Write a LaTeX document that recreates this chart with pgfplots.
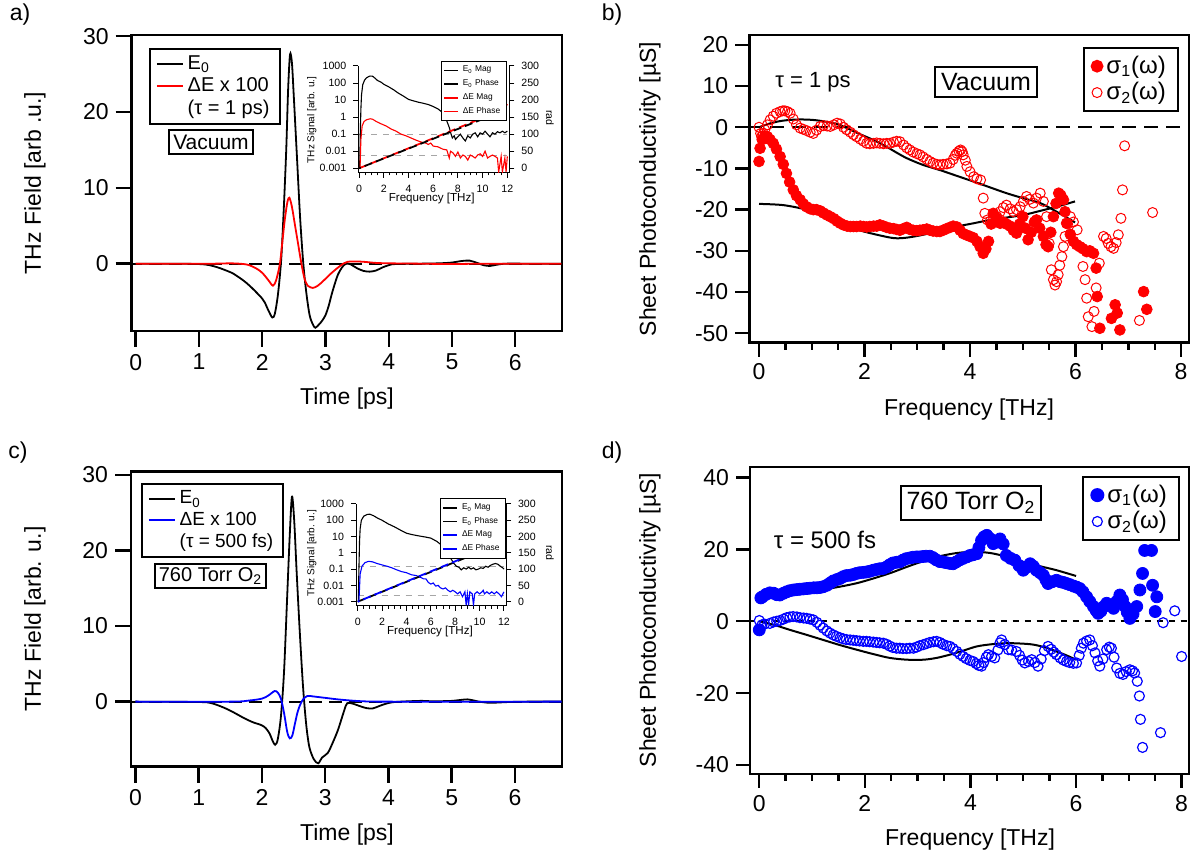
\documentclass[border=0pt]{standalone}
\usepackage{fontspec}
\setmainfont{Liberation Sans}
\usepackage{pgfplots}
\pgfplotsset{compat=1.18}
\usepackage{pgfplotstable}
\newcommand{\fs}[1]{\fontsize{#1}{#1}\selectfont}

\pgfplotstableread{
t v
0 0
0.5 0
1.0 -0.05
1.17 -0.2
1.3 -0.5
1.4 -0.8
1.54 -1.3
1.7 -2.2
1.8 -2.9
1.91 -3.8
2.0 -4.6
2.04 -5.1
2.1 -6.2
2.16 -7.1
2.2 -6.6
2.25 -4.0
2.3 0.5
2.34 7
2.38 15
2.41 23
2.44 27.6
2.47 26.5
2.5 22
2.55 14
2.6 6
2.65 0
2.7 -4
2.75 -6.8
2.8 -8.0
2.84 -8.45
2.9 -8.0
2.95 -7.5
3.0 -6.8
3.05 -5.6
3.1 -4.0
3.15 -2.6
3.2 -1.4
3.27 -0.4
3.33 0
3.4 -0.1
3.5 -0.6
3.6 -0.95
3.7 -1.05
3.8 -0.9
3.9 -0.5
4.0 -0.2
4.1 -0.05
4.5 0
4.8 0.05
5.0 0.15
5.15 0.35
5.28 0.4
5.4 0.1
5.5 -0.2
5.6 -0.3
5.7 -0.15
5.85 0
6.2 0
6.73 0
}\Ea

\pgfplotstableread{
t v
0 0
1.2 0
1.5 0.05
1.75 -0.1
1.9 -0.6
2.0 -1.2
2.1 -2.2
2.17 -2.9
2.22 -2.2
2.28 0
2.32 3
2.36 6
2.4 8.2
2.43 8.7
2.47 7.5
2.52 5
2.57 2.5
2.62 0
2.67 -2
2.72 -2.9
2.8 -3.2
2.88 -2.9
2.95 -2.4
3.0 -2.0
3.1 -1.2
3.2 -0.5
3.28 0
3.35 0.25
3.45 0.3
3.6 0.25
3.8 0.1
4.0 0.05
4.5 0
5.0 -0.05
5.5 0
6.73 0
}\dEa

\pgfplotstableread{
t v
0 0
1.0 -0.05
1.2 -0.2
1.4 -0.8
1.57 -1.5
1.7 -2.1
1.85 -2.7
1.99 -3.1
2.06 -3.5
2.12 -4.2
2.17 -5.2
2.21 -5.7
2.25 -5.0
2.3 -2
2.35 4
2.4 14
2.44 22
2.475 27.1
2.51 24
2.55 17
2.6 9
2.65 2
2.7 -3
2.75 -6
2.82 -7.6
2.89 -8.15
2.95 -7.4
3.04 -6.8
3.1 -5.8
3.2 -3.8
3.3 -1.2
3.35 -0.2
3.45 -0.3
3.55 -0.6
3.65 -0.85
3.75 -0.9
3.85 -0.6
3.95 -0.3
4.1 -0.05
4.5 0.1
4.7 0.05
5.0 0.1
5.25 0.3
5.4 0.05
5.6 -0.15
5.9 -0.05
6.2 0
6.74 0
}\Ec

\pgfplotstableread{
t v
0 0
1.5 0
1.8 0.15
2.0 0.4
2.1 0.8
2.2 1.4
2.25 1.2
2.3 0.4
2.35 -1.5
2.4 -4
2.44 -4.85
2.48 -4.5
2.52 -3
2.56 -1.5
2.6 -0.5
2.65 0.3
2.72 0.75
2.8 0.7
2.9 0.6
3.0 0.5
3.2 0.3
3.4 0.15
3.6 0.05
4.0 0
6.74 0
}\dEc

\pgfplotstableread{
f v
0.05 0.001
0.1 0.1
0.15 3
0.2 20
0.3 80
0.45 150
0.6 200
0.8 245
0.9 257
1.1 250
1.3 190
1.5 140
1.8 110
2.0 85
2.4 60
2.8 40
3.2 25
3.6 17
4.0 11
4.4 9
4.8 7.5
5.2 6.5
5.6 5.5
6.0 4.2
6.4 3.0
6.7 2.0
6.9 1.2
7.1 0.6
7.3 0.25
7.45 0.1
7.55 0.06
7.7 0.08
7.8 0.05
8.0 0.07
8.2 0.1
8.4 0.06
8.6 0.04
8.8 0.08
9.0 0.06
9.2 0.1
9.4 0.12
9.6 0.07
9.8 0.12
10.0 0.1
10.2 0.15
10.4 0.1
10.6 0.07
10.8 0.12
11.0 0.1
11.2 0.14
11.4 0.12
11.6 0.15
11.8 0.12
12.0 0.15
}\EmagA

\pgfplotstableread{
f v
0.08 0.001
0.15 0.05
0.25 0.3
0.4 0.55
0.6 0.7
0.9 0.8
1.1 0.75
1.4 0.55
1.8 0.4
2.2 0.3
2.6 0.2
3.0 0.15
3.4 0.1
3.8 0.08
4.2 0.06
4.6 0.045
5.0 0.035
5.4 0.03
5.6 0.025
5.8 0.03
6.0 0.02
6.4 0.018
6.8 0.013
7.1 0.012
7.3 0.004
7.4 0.01
7.6 0.008
7.8 0.005
8.0 0.009
8.2 0.004
8.4 0.006
8.6 0.005
8.8 0.003
9.0 0.006
9.2 0.005
9.4 0.004
9.6 0.006
9.8 0.007
10.0 0.005
10.2 0.01
10.4 0.004
10.6 0.005
10.8 0.006
11.0 0.005
11.2 0.004
11.3 0.0006
11.5 0.005
11.6 0.0006
11.8 0.004
11.9 0.0006
12.0 0.005
}\dEmagA

\pgfplotstableread{
f v
0.05 0.001
0.1 0.1
0.15 5
0.2 30
0.3 100
0.5 180
0.8 230
1.0 235
1.3 190
1.6 140
2.0 100
2.5 60
3.0 40
3.5 25
4.0 16
4.5 13
5.0 11
5.5 9.5
6.0 8
6.5 5
7.0 2.5
7.3 1.2
7.6 0.5
7.9 0.22
8.1 0.15
8.3 0.13
8.5 0.09
8.7 0.12
8.9 0.1
9.1 0.13
9.3 0.1
9.5 0.12
9.7 0.09
9.9 0.1
10.1 0.12
10.3 0.11
10.5 0.15
10.7 0.13
10.9 0.17
11.1 0.2
11.3 0.22
11.5 0.2
11.7 0.15
11.9 0.12
12.0 0.1
}\EmagC

\pgfplotstableread{
f v
0.1 0.001
0.2 0.05
0.35 0.15
0.6 0.25
0.9 0.3
1.2 0.28
1.6 0.22
2.0 0.18
2.4 0.15
2.8 0.12
3.2 0.09
3.6 0.07
4.0 0.06
4.4 0.045
4.8 0.04
5.2 0.03
5.4 0.025
5.6 0.025
5.8 0.015
6.0 0.012
6.2 0.014
6.4 0.009
6.6 0.01
6.8 0.007
7.0 0.006
7.2 0.007
7.4 0.005
7.6 0.004
7.8 0.005
8.0 0.004
8.2 0.003
8.4 0.004
8.6 0.002
8.8 0.004
8.9 0.0006
9.0 0.003
9.1 0.0006
9.2 0.004
9.4 0.003
9.5 0.0006
9.6 0.003
9.8 0.004
10.0 0.003
10.2 0.004
10.3 0.005
10.4 0.003
10.6 0.004
10.8 0.003
11.0 0.004
11.2 0.003
11.4 0.004
11.6 0.003
11.8 0.002
12.0 0.004
}\dEmagC

\pgfplotstableread{
f v
0.00 -8.3
0.02 -5.1
0.06 -3.0
0.11 -2.1
0.16 -2.3
0.21 -3.0
0.27 -3.9
0.33 -5.3
0.40 -7.1
0.46 -9.0
0.52 -11.2
0.58 -13.3
0.65 -15.2
0.71 -16.6
0.78 -17.6
0.84 -18.6
0.90 -19.3
0.97 -19.8
1.03 -20.0
1.09 -20.0
1.16 -20.3
1.22 -20.8
1.29 -21.3
1.35 -21.7
1.42 -22.2
1.48 -22.8
1.54 -23.3
1.60 -23.7
1.67 -24.0
1.73 -24.1
1.79 -24.1
1.85 -24.1
1.92 -24.0
1.98 -24.1
2.04 -24.2
2.10 -24.1
2.17 -24.0
2.23 -24.0
2.29 -23.7
2.36 -24.0
2.42 -24.3
2.48 -24.5
2.55 -24.6
2.61 -24.8
2.67 -25.0
2.74 -24.6
2.80 -24.3
2.86 -24.8
2.92 -25.0
2.99 -25.1
3.05 -25.0
3.11 -24.9
3.18 -24.7
3.24 -25.0
3.30 -25.2
3.37 -25.3
3.43 -25.3
3.49 -25.0
3.56 -24.6
3.62 -24.3
3.68 -24.0
3.75 -24.2
3.81 -25.0
3.87 -25.8
3.94 -26.2
4.00 -26.5
4.06 -26.8
4.13 -27.7
4.19 -29.0
4.25 -30.6
4.30 -29.5
4.35 -27.7
4.40 -23.5
4.44 -20.9
4.50 -22.0
4.57 -23.3
4.63 -23.0
4.69 -23.5
4.76 -24.0
4.82 -25.0
4.88 -25.7
4.94 -23.5
5.00 -21.7
5.05 -24.5
5.10 -27.3
5.16 -25.5
5.22 -23.0
5.26 -22.5
5.32 -24.5
5.39 -26.5
5.44 -28.5
5.48 -29.0
5.53 -25.5
5.58 -21.7
5.63 -18.5
5.68 -16.0
5.72 -16.5
5.77 -17.6
5.80 -20.5
5.83 -23.3
5.90 -26.0
5.96 -27.7
6.02 -28.5
6.08 -29.0
6.14 -29.5
6.21 -30.2
6.27 -30.0
6.34 -30.6
6.39 -34.2
6.41 -41.1
6.46 -48.8
6.68 -46.4
6.75 -43.1
6.79 -45.1
6.84 -49.2
7.29 -39.9
7.35 -44.2
}\sOneB

\pgfplotstableread{
f v
0.00 0.0
0.03 -1.5
0.05 -2.3
0.08 -1.5
0.11 -0.6
0.16 0.6
0.21 1.8
0.27 2.7
0.33 3.4
0.40 3.8
0.45 4.0
0.49 4.0
0.54 3.8
0.59 3.4
0.65 2.0
0.71 0.6
0.78 -0.2
0.84 -0.5
0.90 -0.8
0.97 -1.2
1.03 -1.5
1.09 -0.7
1.16 0.2
1.22 0.4
1.29 0.3
1.35 0.2
1.42 0.6
1.48 1.0
1.54 0.8
1.60 0.0
1.66 -0.6
1.73 -1.2
1.79 -1.8
1.85 -2.3
1.92 -2.9
1.98 -3.4
2.04 -3.9
2.10 -4.0
2.17 -3.9
2.23 -3.8
2.29 -3.9
2.36 -4.0
2.42 -3.9
2.48 -3.9
2.55 -3.6
2.61 -3.4
2.67 -3.5
2.74 -4.3
2.80 -5.0
2.86 -5.5
2.92 -6.0
2.99 -6.4
3.05 -6.7
3.11 -7.2
3.18 -7.8
3.24 -8.3
3.30 -8.7
3.37 -9.0
3.43 -9.1
3.49 -9.0
3.56 -8.9
3.62 -8.7
3.68 -7.8
3.72 -6.8
3.75 -6.3
3.79 -5.8
3.82 -5.5
3.85 -5.9
3.87 -6.7
3.91 -8.0
3.94 -9.5
4.00 -10.8
4.07 -12.0
4.13 -12.5
4.20 -12.8
4.25 -17.2
4.28 -20.9
4.33 -22.5
4.38 -22.9
4.44 -22.5
4.51 -21.7
4.57 -20.5
4.63 -19.5
4.69 -18.9
4.76 -19.8
4.82 -20.5
4.88 -20.0
4.95 -19.3
5.01 -18.0
5.07 -16.8
5.13 -17.5
5.20 -18.4
5.26 -17.2
5.33 -16.0
5.39 -18.0
5.45 -21.7
5.50 -28.2
5.54 -34.6
5.58 -37.0
5.61 -38.3
5.64 -37.5
5.67 -35.8
5.70 -33.5
5.74 -31.4
5.77 -29.0
5.80 -26.5
5.85 -23.5
5.90 -21.7
5.96 -23.0
6.03 -24.9
6.09 -29.0
6.14 -33.8
6.18 -37.0
6.21 -41.5
6.24 -46.0
6.31 -48.4
6.35 -44.7
6.39 -39.0
6.45 -33.0
6.53 -26.5
6.58 -27.0
6.62 -28.2
6.67 -29.0
6.72 -29.4
6.77 -28.0
6.81 -26.1
6.86 -22.1
6.89 -15.2
6.93 -4.5
7.21 -46.9
7.46 -20.7
}\sTwoB

\pgfplotstableread{
f v
0.00 -2.4
0.03 6.5
0.06 6.8
0.13 7.5
0.20 7.9
0.27 7.8
0.33 7.4
0.39 7.3
0.46 7.8
0.52 8.2
0.58 8.5
0.65 8.7
0.71 8.8
0.77 8.9
0.84 9.0
0.90 9.1
0.96 9.2
1.03 9.3
1.09 9.3
1.15 9.4
1.21 9.6
1.28 10.0
1.34 10.6
1.40 11.2
1.47 11.6
1.53 11.9
1.59 12.4
1.65 12.7
1.72 12.8
1.78 13.0
1.84 13.3
1.90 13.5
1.97 13.6
2.03 13.7
2.09 13.9
2.16 14.2
2.22 14.4
2.28 14.6
2.35 14.7
2.41 15.1
2.47 15.7
2.53 16.2
2.60 16.4
2.66 16.5
2.72 17.0
2.78 17.4
2.85 17.6
2.91 17.8
2.98 17.9
3.04 17.9
3.10 18.0
3.16 18.1
3.23 18.1
3.29 17.7
3.35 17.1
3.42 16.6
3.48 16.5
3.54 16.3
3.61 16.1
3.67 16.0
3.73 16.5
3.80 17.1
3.86 17.5
3.93 17.9
3.99 18.3
4.05 18.5
4.12 18.8
4.16 20.5
4.21 22.5
4.26 23.5
4.31 23.9
4.37 23.0
4.43 21.6
4.49 22.0
4.56 22.9
4.62 21.5
4.68 18.3
4.76 17.5
4.84 17.0
4.92 15.5
5.00 14.2
5.06 15.0
5.13 16.0
5.19 15.3
5.25 14.2
5.32 13.5
5.38 12.8
5.43 11.5
5.47 10.5
5.55 11.0
5.63 11.4
5.70 11.0
5.76 10.8
5.82 10.5
5.88 10.2
5.95 9.8
6.01 9.5
6.07 9.1
6.13 8.2
6.20 6.8
6.26 5.5
6.33 4.1
6.38 3.0
6.42 2.2
6.47 2.8
6.52 4.0
6.58 5.0
6.64 4.5
6.71 3.6
6.77 5.5
6.83 7.3
6.88 6.0
6.93 4.1
6.97 2.5
7.02 0.8
7.08 2.0
7.15 4.1
7.21 8.7
7.26 13.3
7.30 19.7
7.43 19.7
7.45 10.0
7.50 2.7
7.53 6.8
}\sOneD

\pgfplotstableread{
f v
0.00 0.2
0.05 -1.0
0.10 -0.8
0.20 -0.6
0.27 -0.2
0.33 0.0
0.39 0.2
0.46 0.6
0.52 1.0
0.58 1.2
0.64 1.3
0.71 1.2
0.77 1.0
0.84 0.9
0.90 0.8
0.96 0.6
1.02 0.4
1.09 -0.3
1.15 -1.1
1.21 -1.9
1.28 -2.7
1.34 -3.3
1.40 -3.8
1.46 -4.2
1.53 -4.6
1.59 -4.9
1.65 -5.1
1.72 -5.2
1.78 -5.3
1.84 -5.4
1.90 -5.5
1.97 -5.6
2.03 -5.6
2.09 -5.7
2.16 -5.8
2.22 -5.9
2.28 -6.0
2.35 -6.1
2.41 -6.4
2.47 -6.9
2.53 -7.3
2.60 -7.5
2.66 -7.5
2.72 -7.6
2.79 -7.6
2.85 -7.5
2.92 -7.5
2.98 -7.2
3.04 -6.8
3.11 -6.5
3.17 -6.2
3.23 -5.9
3.30 -5.7
3.36 -5.6
3.42 -5.9
3.48 -6.4
3.55 -6.8
3.61 -7.0
3.67 -7.6
3.74 -8.4
3.80 -9.2
3.86 -9.8
3.92 -10.4
3.99 -10.9
4.05 -11.2
4.11 -11.8
4.16 -12.3
4.21 -12.5
4.25 -11.5
4.30 -10.0
4.34 -9.3
4.40 -9.8
4.46 -10.2
4.52 -8.0
4.56 -6.0
4.59 -5.2
4.65 -6.5
4.72 -7.9
4.78 -8.0
4.87 -8.4
4.93 -9.5
4.98 -10.8
5.03 -11.6
5.10 -11.2
5.16 -10.7
5.22 -11.5
5.28 -12.5
5.34 -10.5
5.40 -8.2
5.47 -7.0
5.53 -7.8
5.58 -8.6
5.63 -9.3
5.70 -10.2
5.76 -10.8
5.82 -11.2
5.88 -11.5
5.95 -11.7
6.01 -11.6
6.06 -9.5
6.10 -7.5
6.14 -6.1
6.20 -5.5
6.26 -5.2
6.31 -6.8
6.36 -8.8
6.41 -11.0
6.45 -12.5
6.51 -10.5
6.58 -7.9
6.63 -7.2
6.67 -7.5
6.72 -10.0
6.77 -13.0
6.83 -14.5
6.89 -14.8
6.95 -14.0
7.02 -13.5
7.07 -13.8
7.11 -14.4
7.16 -16.7
7.20 -20.8
7.22 -27.3
7.26 -35.1
7.60 -31.0
7.65 -0.4
7.87 2.9
8.00 -9.8
}\sTwoD

\pgfplotsset{
  mainax/.style={scale only axis, axis line style={line width=1.2pt}, tick align=outside,
    xtick pos=bottom, ytick pos=left, tick style={black, line width=1.2pt},
    major tick length=8pt, minor tick length=3.5pt,
    tick label style={font=\fs{11.5}}, /pgf/number format/assume math mode=true},
  insetax/.style={scale only axis, tick align=outside, axis line style={line width=0.5pt},
    tick style={black, line width=0.5pt}, major tick length=2.5pt, minor tick length=1.3pt,
    tick label style={font=\fs{5.3}}, /pgf/number format/assume math mode=true,
    xmin=-0.06, xmax=12.16, xtick={0,2,...,12}, minor x tick num=3},
}

\begin{document}
\begin{tikzpicture}
\path[use as bounding box] (0pt,0pt) rectangle (597pt,428pt);

% ---------------- panel a ----------------
\begin{axis}[mainax, at={(65.85pt,262.5pt)}, anchor=south west, width=215pt, height=148pt,
  xmin=-0.063, xmax=6.735, ymin=-8.88, ymax=30.17, xtick={0,...,6}, ytick={0,10,20,30},
  legend style={at={(0.04,0.956)}, anchor=north west, draw=black, line width=1pt,
    font=\fs{10}, inner xsep=3pt, inner ysep=1.5pt, row sep=-1.5pt, legend cell align=left},
  legend image code/.code={\draw[#1] (0pt,0pt) -- (13pt,0pt);}]
\addplot[black, line width=1pt, dash pattern=on 6.5pt off 3.5pt, forget plot] coordinates {(-0.1,0) (6.8,0)};
\addplot[black, line width=0.9pt, smooth] table[x=t,y=v] {\Ea};
\addlegendentry{E\textsubscript{0}}
\addplot[red, line width=0.9pt, smooth] table[x=t,y=v] {\dEa};
\addlegendentry{ΔE x 100}
\addlegendimage{empty legend}
\addlegendentry{(τ = 1 ps)}
\end{axis}
\node[draw, line width=1pt, inner xsep=2pt, inner ysep=2.5pt, font=\fs{10.5}] at (105.5pt,357pt) {Vacuum};

% inset a
\begin{axis}[insetax, at={(179.15pt,341.65pt)}, anchor=south west, width=75.5pt, height=53.35pt,
  axis x line*=bottom, axis y line*=left, ymode=log, ymin=5.5e-4, ymax=1000,
  ytick={0.001,0.01,0.1,1,10,100,1000}, yticklabels={0.001,0.01,0.1,1,10,100,1000}, yminorticks=false]
\addplot[gray!70, dashed, line width=0.5pt] coordinates {(0,0.1) (12,0.1)};
\addplot[gray!70, dashed, line width=0.5pt] coordinates {(0,0.0058) (12,0.0058)};
\addplot[black, line width=0.55pt] table[x=f,y=v] {\EmagA};
\addplot[red, line width=0.55pt] table[x=f,y=v] {\dEmagA};
\end{axis}
\begin{axis}[insetax, at={(179.15pt,341.65pt)}, anchor=south west, width=75.5pt, height=53.35pt,
  axis x line=none, axis y line*=right, ymin=-12.9, ymax=300, ytick={0,50,...,300},
  legend style={at={(0.546,1.047)}, anchor=north west, draw=black, line width=0.5pt, font=\fs{4.2},
    inner xsep=1pt, inner ysep=0.3pt, row sep=-1.6pt, legend cell align=left},
  legend image code/.code={\draw[#1, line width=0.8pt] (0pt,0pt) -- (7pt,0pt);}]
\addlegendimage{draw=black}\addlegendentry{E\textsubscript{0} Mag}
\addlegendimage{draw=black}\addlegendentry{E\textsubscript{0} Phase}
\addlegendimage{draw=red}\addlegendentry{ΔE Mag}
\addlegendimage{draw=red}\addlegendentry{ΔE Phase}
\addplot[red, line width=0.9pt, dash pattern=on 4pt off 2pt, forget plot] coordinates {(0,0) (6,88) (11,163) (11.6,175) (12,188)};
\addplot[black, line width=0.9pt, dash pattern=on 4pt off 2pt, dash phase=3pt, forget plot] coordinates {(0,0) (12,173)};
\end{axis}
\node[rotate=90, font=\fs{5}] at (155.85pt,368pt) {THz Signal [arb. u.]};
\node[rotate=-90, font=\fs{5.3}] at (275pt,369pt) {rad};
\node[font=\fs{5.8}] at (215.85pt,328.85pt) {Frequency [THz]};

% ---------------- panel c ----------------
\begin{axis}[mainax, at={(65.5pt,44.65pt)}, anchor=south west, width=215.35pt, height=147.5pt,
  xmin=-0.07, xmax=6.74, ymin=-8.6, ymax=30.4, xtick={0,...,6}, ytick={0,10,20,30},
  legend style={at={(0.023,0.962)}, anchor=north west, draw=black, line width=1pt,
    font=\fs{9.5}, inner xsep=3pt, inner ysep=1.5pt, row sep=-1.5pt, legend cell align=left},
  legend image code/.code={\draw[#1] (0pt,0pt) -- (13pt,0pt);}]
\addplot[black, line width=1pt, dash pattern=on 6.5pt off 3.5pt, forget plot] coordinates {(-0.1,0) (6.8,0)};
\addplot[black, line width=0.9pt, smooth] table[x=t,y=v] {\Ec};
\addlegendentry{E\textsubscript{0}}
\addplot[blue, line width=0.9pt, smooth] table[x=t,y=v] {\dEc};
\addlegendentry{ΔE x 100}
\addlegendimage{empty legend}
\addlegendentry{(τ = 500 fs)}
\end{axis}
\node[draw, line width=1pt, inner xsep=2pt, inner ysep=2pt, font=\fs{10}] at (105.25pt,140pt) {760 Torr O\textsubscript{2}};

% inset c
\begin{axis}[insetax, at={(178pt,125pt)}, anchor=south west, width=75pt, height=51pt,
  xmin=-0.14, xmax=12.17,
  axis x line*=bottom, axis y line*=left, ymode=log, ymin=5.4e-4, ymax=1000,
  ytick={0.001,0.01,0.1,1,10,100,1000}, yticklabels={0.001,0.01,0.1,1,10,100,1000}, yminorticks=false]
\addplot[gray!70, dashed, line width=0.5pt] coordinates {(0,0.145) (12,0.145)};
\addplot[gray!70, dashed, line width=0.5pt] coordinates {(0,0.0024) (12,0.0024)};
\addplot[black, line width=0.55pt] table[x=f,y=v] {\EmagC};
\addplot[blue, line width=0.55pt] table[x=f,y=v] {\dEmagC};
\end{axis}
\begin{axis}[insetax, at={(178pt,125pt)}, anchor=south west, width=75pt, height=51pt,
  xmin=-0.14, xmax=12.17,
  axis x line=none, axis y line*=right, ymin=-13.2, ymax=300, ytick={0,50,...,300},
  legend style={at={(0.56,1.056)}, anchor=north west, draw=black, line width=0.5pt, font=\fs{4.2},
    inner xsep=1pt, inner ysep=0.3pt, row sep=-1.6pt, legend cell align=left},
  legend image code/.code={\draw[#1, line width=0.8pt] (0pt,0pt) -- (7pt,0pt);}]
\addlegendimage{draw=black}\addlegendentry{E\textsubscript{0} Mag}
\addlegendimage{draw=black}\addlegendentry{E\textsubscript{0} Phase}
\addlegendimage{draw=blue}\addlegendentry{ΔE Mag}
\addlegendimage{draw=blue}\addlegendentry{ΔE Phase}
\addplot[black, line width=0.9pt, dash pattern=on 4pt off 2pt, forget plot] coordinates {(0,0) (12,183)};
\addplot[blue, line width=0.9pt, dash pattern=on 4pt off 2pt, dash phase=3pt, forget plot] coordinates {(0,0) (12,186)};
\end{axis}
\node[rotate=90, font=\fs{5}] at (155.85pt,151.35pt) {THz Signal [arb. u.]};
\node[rotate=-90, font=\fs{5.3}] at (275pt,151.5pt) {rad};
\node[font=\fs{5.8}] at (215pt,112pt) {Frequency [THz]};

% ---------------- panel b ----------------
\begin{axis}[mainax, at={(374.65pt,256.65pt)}, anchor=south west, width=219.85pt, height=153.85pt,
  xmin=-0.184, xmax=8.15, ymin=-52.3, ymax=22.4, xtick={0,2,4,6,8}, minor x tick num=3,
  ytick={-50,-40,...,20}, major tick length=7pt, minor tick length=3.5pt,
  legend style={at={(0.977,0.961)}, anchor=north east, draw=black, line width=1pt,
    font=\fs{12}, inner xsep=4pt, inner ysep=2pt, row sep=-1pt, legend cell align=left}]
\addplot[black, line width=1.1pt, dash pattern=on 7pt off 4pt, forget plot] coordinates {(-0.2,0) (8.2,0)};
\addlegendimage{only marks, mark=*, mark size=2.7pt, red, fill=red}
\addlegendentry{σ\textsubscript{1}(ω)}
\addlegendimage{only marks, mark=o, mark size=2.5pt, red, mark options={line width=0.5pt}}
\addlegendentry{σ\textsubscript{2}(ω)}
\addplot[only marks, mark=o, mark size=2.5pt, red, mark options={line width=0.5pt}, forget plot] table[x=f,y=v] {\sTwoB};
\addplot[only marks, mark=*, mark size=2.7pt, red, fill=red, forget plot] table[x=f,y=v] {\sOneB};
\addplot[black, line width=1pt, smooth, forget plot] coordinates {(0,0) (0.2,0.9) (0.4,1.5) (0.6,1.8) (0.78,1.9) (1.0,1.8) (1.2,1.5) (1.47,0.8) (1.7,-0.4) (1.9,-1.6) (2.17,-3.1) (2.4,-4.6) (2.6,-6.1) (2.8,-7.5) (3.1,-9.1) (3.43,-10.4) (3.75,-11.8) (4.07,-13.2) (4.38,-14.6) (4.69,-16.0) (5.0,-17.2) (5.33,-18.4) (5.64,-20.5) (5.99,-23.1)};
\addplot[black, line width=1pt, smooth, forget plot] coordinates {(0,-18.6) (0.46,-18.9) (0.9,-20.0) (1.2,-21.3) (1.54,-23.3) (1.85,-24.8) (2.17,-25.9) (2.55,-26.9) (2.8,-26.8) (3.11,-26.1) (3.43,-25.1) (3.75,-24.1) (4.07,-23.3) (4.38,-22.5) (4.7,-21.9) (5.01,-21.3) (5.33,-20.3) (5.64,-19.3) (5.99,-18.0)};
\end{axis}
\node[font=\fs{11}] at (406.5pt,387pt) {τ = 1 ps};
\node[draw, line width=1pt, inner xsep=3pt, inner ysep=3pt, font=\fs{12.5}] at (493pt,387pt) {Vacuum};

% ---------------- panel d ----------------
\begin{axis}[mainax, at={(375pt,41pt)}, anchor=south west, width=219.5pt, height=153.65pt,
  xmin=-0.176, xmax=8.14, ymin=-42.5, ymax=43.0, xtick={0,2,4,6,8}, minor x tick num=3,
  ytick={-40,-20,0,20,40}, major tick length=7pt, minor tick length=3.5pt,
  legend style={at={(0.979,0.970)}, anchor=north east, draw=black, line width=1pt,
    font=\fs{12}, inner xsep=4pt, inner ysep=2pt, row sep=-1pt, legend cell align=left}]
\addplot[black, line width=1pt, dash pattern=on 3pt off 3pt, forget plot] coordinates {(-0.2,0) (8.2,0)};
\addlegendimage{only marks, mark=*, mark size=3pt, blue, fill=blue}
\addlegendentry{σ\textsubscript{1}(ω)}
\addlegendimage{only marks, mark=o, mark size=2.5pt, blue, mark options={line width=0.6pt}}
\addlegendentry{σ\textsubscript{2}(ω)}
\addplot[only marks, mark=o, mark size=2.5pt, blue, mark options={line width=0.6pt}, forget plot] table[x=f,y=v] {\sTwoD};
\addplot[only marks, mark=*, mark size=3pt, blue, fill=blue, forget plot] table[x=f,y=v] {\sOneD};
\addplot[black, line width=1pt, smooth, forget plot] coordinates {(0,7.9) (0.4,8.0) (0.89,8.2) (1.2,8.8) (1.52,9.6) (1.85,10.6) (2.16,11.9) (2.5,13.5) (2.79,15.1) (3.1,16.7) (3.42,18.1) (3.75,19.0) (4.05,19.3) (4.37,19.0) (4.7,17.9) (5.0,16.5) (5.32,15.3) (5.63,14.2) (6.0,12.6)};
\addplot[black, line width=1pt, smooth, forget plot] coordinates {(0,0) (0.3,-1.1) (0.58,-2.4) (0.9,-3.8) (1.21,-5.2) (1.52,-6.6) (1.84,-7.9) (2.15,-9.1) (2.47,-10.2) (2.8,-10.7) (3.11,-10.7) (3.36,-10.2) (3.61,-9.3) (3.86,-8.2) (4.12,-7.0) (4.4,-6.4) (4.68,-6.1) (4.95,-6.2) (5.19,-6.5) (5.42,-7.3) (5.63,-8.4) (5.82,-9.5) (6.0,-10.7)};
\end{axis}
\node[font=\fs{12}] at (412.5pt,158pt) {τ = 500 fs};
\node[draw, line width=1pt, inner xsep=3pt, inner ysep=3pt, font=\fs{12.5}] at (485.5pt,176.5pt) {760 Torr O\textsubscript{2}};

% ---------------- labels ----------------
\node[font=\fs{11.5}] at (10pt,420.5pt) {a)};
\node[font=\fs{11.5}] at (306pt,420.5pt) {b)};
\node[font=\fs{11.5}] at (9pt,201.5pt) {c)};
\node[font=\fs{11.5}] at (306pt,201.5pt) {d)};
\node[rotate=90, font=\fs{11.5}] at (17.5pt,336.5pt) {THz Field [arb .u.]};
\node[rotate=90, font=\fs{11.5}] at (17.5pt,118.5pt) {THz Field [arb. u.]};
\node[rotate=90, font=\fs{11.5}] at (325pt,333.5pt) {Sheet Photoconductivity [µS]};
\node[rotate=90, font=\fs{11.5}] at (325pt,118pt) {Sheet Photoconductivity [µS]};
\node[font=\fs{11.5}] at (173.5pt,228.5pt) {Time [ps]};
\node[font=\fs{11.5}] at (173.5pt,10.65pt) {Time [ps]};
\node[font=\fs{11.5}] at (484.5pt,223pt) {Frequency [THz]};
\node[font=\fs{11.5}] at (485pt,8pt) {Frequency [THz]};
\end{tikzpicture}
\end{document}
